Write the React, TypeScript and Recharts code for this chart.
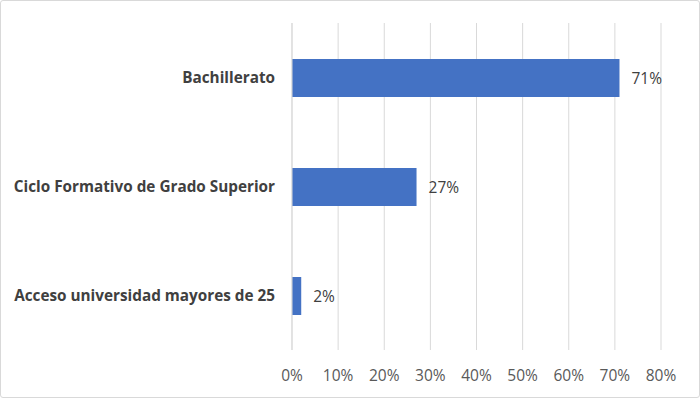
import React from "react";
import { BarChart, Bar, XAxis, YAxis, CartesianGrid, LabelList } from "recharts";

const categories = ["Bachillerato", "Ciclo Formativo de Grado Superior", "Acceso universidad mayores de 25"];
const values = [0.71, 0.27, 0.02];
const xTicks = [0, 0.1, 0.2, 0.3, 0.4, 0.5, 0.6, 0.7, 0.8];

const data = categories.map((name, i) => ({ name, value: values[i] }));
const pct = (v: number) => `${Math.round(v * 100)}%`;
const FONT = "'Open Sans', 'Noto Sans', sans-serif";

export default function App() {
  return (
    <div
      style={{
        position: "absolute",
        top: 0,
        left: 0,
        width: 700,
        height: 398,
        boxSizing: "border-box",
        border: "1px solid #d9d9d9",
        borderRadius: 3,
        background: "#fff",
      }}
    >
      <div style={{ position: "absolute", top: -1, left: -1 }}>
        <BarChart
          width={700}
          height={398}
          data={data}
          layout="vertical"
          margin={{ top: 23, right: 39, bottom: 0, left: 0 }}
        >
          <CartesianGrid horizontal={false} vertical={true} stroke="#d9d9d9" strokeWidth={1} />
          <XAxis
            type="number"
            domain={[0, 0.8]}
            ticks={xTicks}
            tickFormatter={pct}
            axisLine={false}
            tickLine={false}
            tickSize={0}
            tickMargin={20}
            height={48}
            interval={0}
            tick={{ fill: "#595959", fontSize: 15.5, fontFamily: FONT }}
          />
          <YAxis
            type="category"
            dataKey="name"
            width={292}
            axisLine={{ stroke: "#d9d9d9" }}
            tickLine={false}
            tickSize={0}
            tickMargin={17}
            interval={0}
            tick={{ fill: "#404040", fontSize: 15.3, fontWeight: 700, fontFamily: FONT }}
          />
          <Bar dataKey="value" fill="#4472c4" barSize={38} isAnimationActive={false}>
            <LabelList
              dataKey="value"
              position="right"
              offset={12}
              formatter={(v: any) => pct(Number(v))}
              style={{ fill: "#404040", fontSize: 15.5, fontFamily: FONT }}
            />
          </Bar>
        </BarChart>
      </div>
    </div>
  );
}
